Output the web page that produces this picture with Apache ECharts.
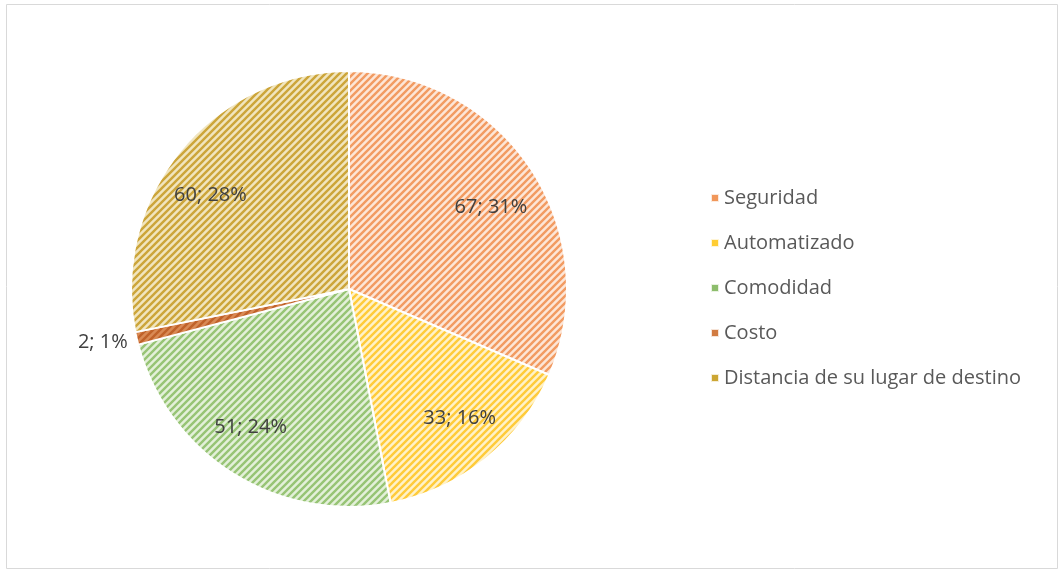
<!DOCTYPE html>
<html>
<head>
<meta charset="utf-8">
<script src="https://cdn.jsdelivr.net/npm/echarts@6/dist/echarts.min.js"></script>
<style>
  html, body { margin: 0; padding: 0; background: #fff; }
  #chart { width: 1060px; height: 572px; }
</style>
</head>
<body>
<div id="chart"></div>
<script>
const categories = ['Seguridad', 'Automatizado', 'Comodidad', 'Costo', 'Distancia de su lugar de destino'];
const values = [67, 33, 51, 2, 60];
// main colour, stripe colour and background tint for each slice
const mainColors = ['#ED7D31', '#FFC000', '#70AD47', '#C55A11', '#BF9000'];
const stripeColors = ['#F29B62', '#FFCB3A', '#97C475', '#C0622A', '#CCA53A'];
const bgColors = ['#FDE6D7', '#FFF2C9', '#E3F0D9', '#D98A55', '#F1E5BE'];
// small nudges so the labels sit where the original placed them
const labelOffsets = [[0, 12], [4, -3], [-8, -6], [0, 3], [-7, 14]];

// diagonal hatch tile, lines going up to the right
function hatch(fg, bg) {
  const s = 7;
  const c = document.createElement('canvas');
  c.width = s; c.height = s;
  const ctx = c.getContext('2d');
  ctx.fillStyle = bg;
  ctx.fillRect(0, 0, s, s);
  ctx.strokeStyle = fg;
  ctx.lineWidth = 2.4;
  ctx.beginPath();
  ctx.moveTo(-1, s + 1); ctx.lineTo(s + 1, -1);
  ctx.moveTo(-1, 1); ctx.lineTo(1, -1);
  ctx.moveTo(s - 1, s + 1); ctx.lineTo(s + 1, s - 1);
  ctx.stroke();
  return { image: c, repeat: 'repeat' };
}

const chart = echarts.init(document.getElementById('chart'));
const font = '"Open Sans", sans-serif';

const pieData = categories.map((name, i) => ({
  name: name,
  value: values[i],
  itemStyle: { color: hatch(stripeColors[i], bgColors[i]) },
  label: i === 3 ? {
    show: true, position: 'outside', formatter: '{c}; {d}%',
    color: '#404040', fontSize: 20, fontFamily: font, offset: labelOffsets[i]
  } : { show: false },
  labelLine: { show: false, length: 4, length2: 0 }
}));

// invisible wider pie, only used to place the inside labels further out
const labelData = categories.map((name, i) => ({
  name: name,
  value: values[i],
  label: { show: i !== 3, offset: labelOffsets[i] }
}));

chart.setOption({
  animation: false,
  graphic: [{
    type: 'rect',
    shape: { x: 6.5, y: 4.5, width: 1051, height: 564 },
    style: { fill: 'none', stroke: '#d9d9d9', lineWidth: 1 }
  }],
  legend: {
    orient: 'vertical',
    left: 705,
    top: 183,
    itemWidth: 8,
    itemHeight: 8,
    itemGap: 25,
    icon: 'rect',
    textStyle: { color: '#595959', fontSize: 20, fontFamily: font },
    data: categories.map((name, i) => ({ name: name, itemStyle: { color: mainColors[i], opacity: 0.8 } }))
  },
  series: [{
    type: 'pie',
    center: [349, 289],
    radius: [0, 218],
    startAngle: 90,
    clockwise: true,
    percentPrecision: 0,
    itemStyle: { borderColor: '#fff', borderWidth: 2 },
    emphasis: { disabled: true },
    data: pieData
  }, {
    type: 'pie',
    center: [349, 289],
    radius: [0, 334],
    startAngle: 90,
    clockwise: true,
    percentPrecision: 0,
    silent: true,
    z: 3,
    legendHoverLink: false,
    itemStyle: { color: 'rgba(0,0,0,0)', borderWidth: 0 },
    label: {
      position: 'inside', formatter: '{c}; {d}%',
      color: '#404040', fontSize: 20, fontFamily: font
    },
    labelLine: { show: false },
    data: labelData
  }]
});
</script>
</body>
</html>
